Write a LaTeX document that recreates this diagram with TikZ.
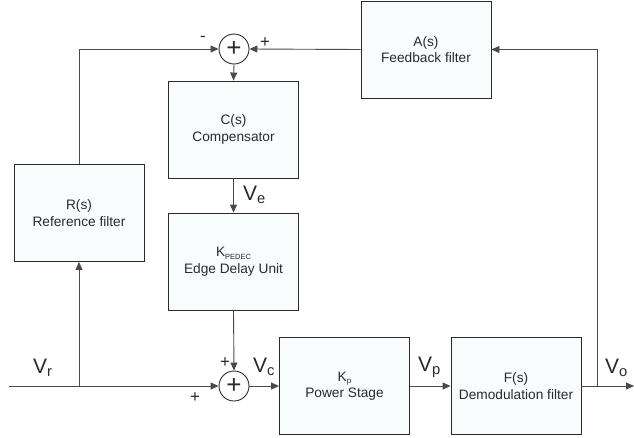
\documentclass[tikz,border=0pt]{standalone}
\usepackage{fontspec}
\setmainfont{Liberation Sans}
\usepackage{xcolor}
\usetikzlibrary{positioning, arrows.meta}

\definecolor{boxfill}{HTML}{F8FCFD}
\definecolor{wire}{HTML}{4A4A4A}
\definecolor{ink}{HTML}{2A2A2A}

\begin{document}
\begin{tikzpicture}[
    x=1pt, y=-1pt,
    block/.style={rectangle, draw=ink, fill=boxfill, line width=0.9pt,
        minimum width=130pt, minimum height=97pt, inner sep=0pt,
        align=center, text=ink, font=\fontsize{13.7}{16.5}\selectfont},
    sumnode/.style={circle, draw=ink, fill=white, line width=0.9pt,
        minimum size=30pt, inner sep=0pt, text=ink,
        font=\fontsize{26}{26}\selectfont},
    sig/.style={anchor=base west, inner sep=0pt, text=ink,
        font=\fontsize{21}{21}\selectfont},
    sgn/.style={inner sep=0pt, text=ink, font=\fontsize{17}{17}\selectfont},
    wire/.style={draw=wire, line width=0.9pt},
    arr/.style={wire, -{Triangle[length=8pt, width=7pt]}}
]
\useasboundingbox (0,0) rectangle (634,437);

% blocks
\node[block] (A) at (426,49.5) {A(s)\\Feedback filter};
\node[block] (C) at (233.5,129.5) {C(s)\\Compensator};
\node[block] (K) at (233.5,261.5) {K{\raisebox{-2.5pt}{\fontsize{7.5}{8}\selectfont PEDEC}}\\Edge Delay Unit};
\node[block] (R) at (79,213) {R(s)\\Reference filter};
\node[block] (P) at (344.5,386) {K{\raisebox{-2.5pt}{\fontsize{8}{8}\selectfont p}}\\Power Stage};
\node[block] (F) at (516,386) {F(s)\\Demodulation filter};

% summing junctions
\node[sumnode] (s1) at (234,49) {+};
\node[sumnode] (s2) at (234,386) {+};

\coordinate (in) at (9,386);
\coordinate (br) at (79,386);
\coordinate (bo) at (597,386);
\coordinate (out) at (634,386);

% forward path
\draw[wire] (in) -- (br);
\draw[arr] (br) -- (s2.west);
\draw[arr] (s2.east) -- (P.west);
\draw[arr] (P.east) -- (F.west);
\draw[wire] (F.east) -- (bo);
\draw[arr] (bo) -- (out);

% reference branch
\draw[arr] (br) -- (R.south);
\draw[arr] (R.north) |- (s1.west);

% feedback
\draw[arr] (bo) |- (A.east);
\draw[arr] (A.west) -- (s1.east);

% compensator chain
\draw[arr] (s1.south) -- (C.north);
\draw[arr] (C.south) -- (K.north);
\draw[arr] (K.south) -- (s2.north);

% signal names
\node[sig] (vr) at (33,373) {V\textsubscript{r}};
\node[sig] (vc) at (253,372) {V\textsubscript{c}};
\node[sig] (vp) at (418,371) {V\textsubscript{p}};
\node[sig] (vo) at (605,373) {V\textsubscript{o}};
\node[sig] (ve) at (243,200) {V\textsubscript{e}};

% signs
\node[sgn] (m1) at (203,39) {-};
\node[sgn] (p1) at (265,43) {+};
\node[sgn] (p2) at (225,363) {+};
\node[sgn] (p3) at (195,398) {+};
\end{tikzpicture}
\end{document}
